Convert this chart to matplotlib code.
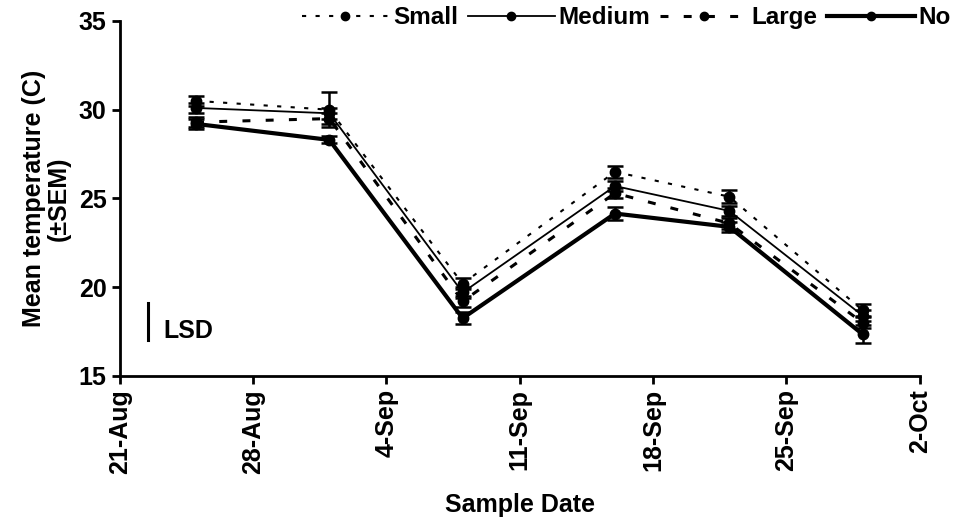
import datetime as dt
import matplotlib
matplotlib.use("Agg")
import matplotlib.pyplot as plt
import matplotlib.dates as mdates
from matplotlib.lines import Line2D

# sample dates and mean temperatures (C) with SEM
dates = ["2006-08-25", "2006-09-01", "2006-09-08", "2006-09-16", "2006-09-22", "2006-09-29"]
small = [30.5, 30.0, 20.2, 26.5, 25.1, 18.7]
small_sem = [0.3, 1.0, 0.3, 0.35, 0.35, 0.35]
medium = [30.1, 29.8, 19.7, 25.7, 24.3, 18.4]
medium_sem = [0.3, 0.3, 0.3, 0.3, 0.3, 0.3]
large = [29.3, 29.5, 19.2, 25.3, 23.6, 18.0]
large_sem = [0.3, 0.3, 0.3, 0.3, 0.3, 0.3]
no = [29.2, 28.3, 18.25, 24.15, 23.4, 17.35]
no_sem = [0.3, 0.2, 0.35, 0.35, 0.3, 0.5]

tick_dates = ["2006-08-21", "2006-08-28", "2006-09-04", "2006-09-11",
              "2006-09-18", "2006-09-25", "2006-10-02"]
lsd = 2.1

def main():
  plt.rcParams['font.family'] = ['Liberation Sans', 'DejaVu Sans']
  plt.rcParams['font.weight'] = 'bold'
  fig = plt.figure(figsize=(9.59, 5.25), dpi=100, facecolor='white')
  ax = fig.add_axes([0.125, 0.284, 0.834, 0.676])

  x = [dt.datetime.strptime(d, "%Y-%m-%d") for d in dates]
  series = [
    ("Small", small, small_sem, dict(ls=(0, (2, 4.5)), lw=1.5)),
    ("Medium", medium, medium_sem, dict(ls='-', lw=1.3)),
    ("Large", large, large_sem, dict(ls=(0, (2.6, 5.0)), lw=2.2)),
    ("No", no, no_sem, dict(ls='-', lw=3.0)),
  ]
  handles = []
  for name, y, e, st in series:
    ax.errorbar(x, y, yerr=e, color='black', marker='o', markersize=7.5,
                capsize=5.5, capthick=1.8, elinewidth=1.8, **st)
    handles.append(Line2D([], [], color='black', marker='o', markersize=6,
                          label=name, **st))

  ticks = [dt.datetime.strptime(d, "%Y-%m-%d") for d in tick_dates]
  ax.set_xlim(ticks[0], ticks[-1])
  ax.set_xticks(ticks)
  ax.xaxis.set_major_formatter(mdates.DateFormatter('%-d-%b'))
  ax.set_ylim(15, 35)
  ax.set_yticks([15, 20, 25, 30, 35])

  for s in ["top", "right"]:
    ax.spines[s].set_visible(False)
  for s in ["left", "bottom"]:
    ax.spines[s].set_linewidth(2)
  ax.tick_params(width=2, length=6, labelsize=18)
  plt.setp(ax.get_xticklabels(), rotation=90)

  ax.set_xlabel("Sample Date", fontsize=18, fontweight='bold', labelpad=14)
  ax.set_ylabel("Mean temperature (C)\n(\u00b1SEM)", fontsize=18,
                fontweight='bold', linespacing=1.0, labelpad=6)

  # LSD bar
  lx = ticks[0] + dt.timedelta(days=1.5)
  ax.plot([lx, lx], [17.0, 17.0 + lsd], color='black', lw=2.2)
  ax.text(ticks[0] + dt.timedelta(days=2.3), 17.55, "LSD", fontsize=18,
          fontweight='bold', va='center', ha='left')

  fig.legend(handles=handles, loc='upper right', bbox_to_anchor=(1.014, 1.03),
             ncol=4, frameon=False, fontsize=17.5, handlelength=3.6,
             columnspacing=0.4, handletextpad=0.15)

  fig.savefig("out.png", dpi=100)

if __name__ == '__main__':
  main()
